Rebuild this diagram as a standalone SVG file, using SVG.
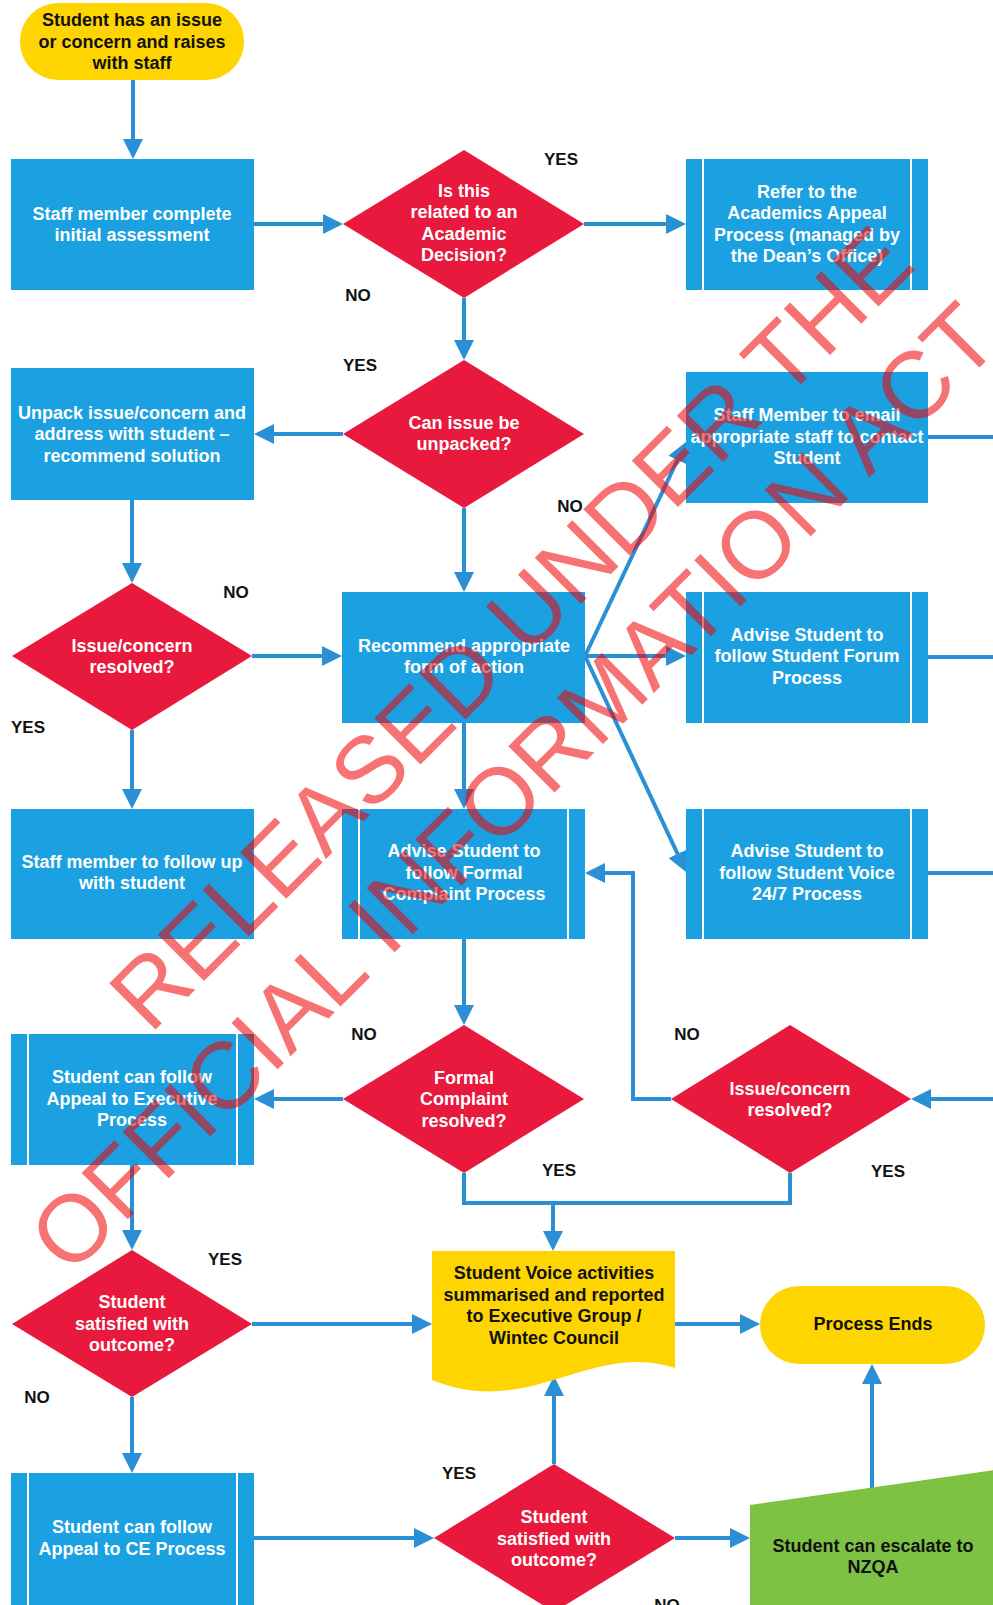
<svg xmlns="http://www.w3.org/2000/svg" width="993" height="1605" viewBox="0 0 993 1605">
  <style>
    .box { fill: #1ba1e2; }
    .dec { fill: #e8193c; }
    .term { fill: #ffd500; }
    .nz { fill: #7dc242; }
    .bar { stroke: #ffffff; stroke-width: 2; }
    .conn { fill: none; stroke: #2b8fd6; stroke-width: 4; }
    .arr { marker-end: url(#ah); }
    text { font-family: "Liberation Sans", Arial, sans-serif; font-weight: bold; text-anchor: middle; }
    .w { fill: #ffffff; font-size: 18px; }
    .k { fill: #111111; font-size: 18px; }
    .lbl { fill: #111111; font-size: 17px; }
    .wm { font-family: "Liberation Sans", Arial, sans-serif; font-weight: normal; font-size: 95px; fill: #f00000; fill-opacity: 0.55; text-anchor: start; }
  </style>
  <defs>
    <marker id="ah" viewBox="0 0 20 20" refX="10" refY="10" markerWidth="20" markerHeight="20" markerUnits="userSpaceOnUse" orient="auto">
      <path d="M0,0 L20,10 L0,20 Z" fill="#2b8fd6"/>
    </marker>
  </defs>
  <rect width="993" height="1605" fill="#ffffff"/>

  <!-- connectors -->
  <g id="connectors">
    <path class="conn arr" d="M133,80 V149"/>
    <path class="conn arr" d="M254,224 H333"/>
    <path class="conn arr" d="M584,224 H676"/>
    <path class="conn arr" d="M464,298 V350"/>
    <path class="conn arr" d="M343,434 H264"/>
    <path class="conn arr" d="M464,508 V582"/>
    <path class="conn arr" d="M132,500 V573"/>
    <path class="conn arr" d="M252,656 H332"/>
    <path class="conn arr" d="M132,730 V799"/>
    <path class="conn arr" d="M585,656 L681.7,451"/>
    <path class="conn arr" d="M585,656 H676"/>
    <path class="conn arr" d="M585,656 L681.8,862.9"/>
    <path class="conn arr" d="M464,723 V799"/>
    <path class="conn arr" d="M464,939 V1015"/>
    <path class="conn arr" d="M343,1099 H264"/>
    <path class="conn" d="M464,1173 V1203 H790 V1173"/>
    <path class="conn arr" d="M553,1203 V1241"/>
    <path class="conn arr" d="M671,1099 H633 V873 H595"/>
    <path class="conn" d="M928,437 H993"/>
    <path class="conn" d="M928,657 H993"/>
    <path class="conn" d="M928,873 H993"/>
    <path class="conn arr" d="M995,1099 H921"/>
    <path class="conn arr" d="M132,1165 V1240"/>
    <path class="conn arr" d="M252,1324 H422"/>
    <path class="conn arr" d="M132,1397 V1463"/>
    <path class="conn arr" d="M675,1324 H750"/>
    <path class="conn arr" d="M254,1538 H424"/>
    <path class="conn arr" d="M554,1464 V1386"/>
    <path class="conn arr" d="M675,1538 H740"/>
    <path class="conn arr" d="M872,1488 V1374"/>
  </g>

  <!-- start terminal -->
  <g id="start">
    <rect class="term" x="20" y="3" width="224" height="77" rx="38"/>
    <text class="k" x="132" y="26">Student has an issue</text>
    <text class="k" x="132" y="48">or concern and raises</text>
    <text class="k" x="132" y="69">with staff</text>
  </g>

  <g id="initial-assessment">
    <rect class="box" x="11" y="159" width="243" height="131"/>
    <text class="w" x="132" y="220">Staff member complete</text>
    <text class="w" x="132" y="241">initial assessment</text>
  </g>

  <g id="academic-decision">
    <polygon class="dec" points="464,150 584,224 464,298 343,224"/>
    <text class="w" x="464" y="197">Is this</text>
    <text class="w" x="464" y="218">related to an</text>
    <text class="w" x="464" y="240">Academic</text>
    <text class="w" x="464" y="261">Decision?</text>
  </g>

  <g id="academics-appeal">
    <rect class="box" x="686" y="159" width="242" height="131"/>
    <line class="bar" x1="703" y1="159" x2="703" y2="290"/>
    <line class="bar" x1="911" y1="159" x2="911" y2="290"/>
    <text class="w" x="807" y="198">Refer to the</text>
    <text class="w" x="807" y="219">Academics Appeal</text>
    <text class="w" x="807" y="241">Process (managed by</text>
    <text class="w" x="807" y="262">the Dean’s Office)</text>
  </g>

  <g id="can-unpack">
    <polygon class="dec" points="464,360 584,434 464,508 343,434"/>
    <text class="w" x="464" y="429">Can issue be</text>
    <text class="w" x="464" y="450">unpacked?</text>
  </g>

  <g id="unpack-issue">
    <rect class="box" x="11" y="368" width="243" height="132"/>
    <text class="w" x="132" y="419">Unpack issue/concern and</text>
    <text class="w" x="132" y="440">address with student –</text>
    <text class="w" x="132" y="462">recommend solution</text>
  </g>

  <g id="email-staff">
    <rect class="box" x="686" y="372" width="242" height="131"/>
    <text class="w" x="807" y="421">Staff Member to email</text>
    <text class="w" x="807" y="443">appropriate staff to contact</text>
    <text class="w" x="807" y="464">Student</text>
  </g>

  <g id="resolved-1">
    <polygon class="dec" points="132,583 252,656 132,730 12,656"/>
    <text class="w" x="132" y="652">Issue/concern</text>
    <text class="w" x="132" y="673">resolved?</text>
  </g>

  <g id="recommend-action">
    <rect class="box" x="342" y="592" width="243" height="131"/>
    <text class="w" x="464" y="652">Recommend appropriate</text>
    <text class="w" x="464" y="673">form of action</text>
  </g>

  <g id="student-forum">
    <rect class="box" x="686" y="592" width="242" height="131"/>
    <line class="bar" x1="703" y1="592" x2="703" y2="723"/>
    <line class="bar" x1="911" y1="592" x2="911" y2="723"/>
    <text class="w" x="807" y="641">Advise Student to</text>
    <text class="w" x="807" y="662">follow Student Forum</text>
    <text class="w" x="807" y="684">Process</text>
  </g>

  <g id="follow-up">
    <rect class="box" x="11" y="809" width="243" height="130"/>
    <text class="w" x="132" y="868">Staff member to follow up</text>
    <text class="w" x="132" y="889">with student</text>
  </g>

  <g id="formal-complaint">
    <rect class="box" x="342" y="809" width="243" height="130"/>
    <line class="bar" x1="359" y1="809" x2="359" y2="939"/>
    <line class="bar" x1="568" y1="809" x2="568" y2="939"/>
    <text class="w" x="464" y="857">Advise Student to</text>
    <text class="w" x="464" y="879">follow Formal</text>
    <text class="w" x="464" y="900">Complaint Process</text>
  </g>

  <g id="student-voice">
    <rect class="box" x="686" y="809" width="242" height="130"/>
    <line class="bar" x1="703" y1="809" x2="703" y2="939"/>
    <line class="bar" x1="911" y1="809" x2="911" y2="939"/>
    <text class="w" x="807" y="857">Advise Student to</text>
    <text class="w" x="807" y="879">follow Student Voice</text>
    <text class="w" x="807" y="900">24/7 Process</text>
  </g>

  <g id="complaint-resolved">
    <polygon class="dec" points="464,1025 584,1099 464,1173 343,1099"/>
    <text class="w" x="464" y="1084">Formal</text>
    <text class="w" x="464" y="1105">Complaint</text>
    <text class="w" x="464" y="1127">resolved?</text>
  </g>

  <g id="resolved-2">
    <polygon class="dec" points="790,1025 911,1099 790,1173 671,1099"/>
    <text class="w" x="790" y="1095">Issue/concern</text>
    <text class="w" x="790" y="1116">resolved?</text>
  </g>

  <g id="appeal-executive">
    <rect class="box" x="11" y="1034" width="243" height="131"/>
    <line class="bar" x1="28" y1="1034" x2="28" y2="1165"/>
    <line class="bar" x1="237" y1="1034" x2="237" y2="1165"/>
    <text class="w" x="132" y="1083">Student can follow</text>
    <text class="w" x="132" y="1105">Appeal to Executive</text>
    <text class="w" x="132" y="1126">Process</text>
  </g>

  <g id="satisfied-1">
    <polygon class="dec" points="132,1250 252,1324 132,1397 12,1324"/>
    <text class="w" x="132" y="1308">Student</text>
    <text class="w" x="132" y="1330">satisfied with</text>
    <text class="w" x="132" y="1351">outcome?</text>
  </g>

  <g id="report">
    <path class="term" d="M432,1251 H675 V1368 C590,1340 530,1420 432,1380 Z"/>
    <text class="k" x="554" y="1279">Student Voice activities</text>
    <text class="k" x="554" y="1301">summarised and reported</text>
    <text class="k" x="554" y="1322">to Executive Group /</text>
    <text class="k" x="554" y="1344">Wintec Council</text>
  </g>

  <g id="process-ends">
    <rect class="term" x="760" y="1286" width="225" height="78" rx="39"/>
    <text class="k" x="873" y="1330">Process Ends</text>
  </g>

  <g id="appeal-ce">
    <rect class="box" x="11" y="1473" width="243" height="140"/>
    <line class="bar" x1="28" y1="1473" x2="28" y2="1613"/>
    <line class="bar" x1="237" y1="1473" x2="237" y2="1613"/>
    <text class="w" x="132" y="1533">Student can follow</text>
    <text class="w" x="132" y="1555">Appeal to CE Process</text>
  </g>

  <g id="satisfied-2">
    <polygon class="dec" points="554,1464 675,1538 554,1612 434,1538"/>
    <text class="w" x="554" y="1523">Student</text>
    <text class="w" x="554" y="1545">satisfied with</text>
    <text class="w" x="554" y="1566">outcome?</text>
  </g>

  <g id="escalate-nzqa">
    <polygon class="nz" points="750,1505 995,1470 995,1610 750,1610"/>
    <text class="k" x="873" y="1552">Student can escalate to</text>
    <text class="k" x="873" y="1573">NZQA</text>
  </g>

  <!-- branch labels -->
  <g id="labels">
    <text class="lbl" x="561" y="165">YES</text>
    <text class="lbl" x="358" y="301">NO</text>
    <text class="lbl" x="360" y="371">YES</text>
    <text class="lbl" x="570" y="512">NO</text>
    <text class="lbl" x="236" y="598">NO</text>
    <text class="lbl" x="28" y="733">YES</text>
    <text class="lbl" x="364" y="1040">NO</text>
    <text class="lbl" x="559" y="1176">YES</text>
    <text class="lbl" x="687" y="1040">NO</text>
    <text class="lbl" x="888" y="1177">YES</text>
    <text class="lbl" x="225" y="1265">YES</text>
    <text class="lbl" x="37" y="1403">NO</text>
    <text class="lbl" x="459" y="1479">YES</text>
    <text class="lbl" x="667" y="1611">NO</text>
  </g>

  <!-- release stamp across the page -->
  <g id="stamp">
    <text class="wm" transform="translate(150,1035) rotate(-45)">RELEASED UNDER THE</text>
    <text class="wm" transform="translate(70,1277) rotate(-45)">OFFICIAL INFORMATION ACT</text>
  </g>
</svg>
